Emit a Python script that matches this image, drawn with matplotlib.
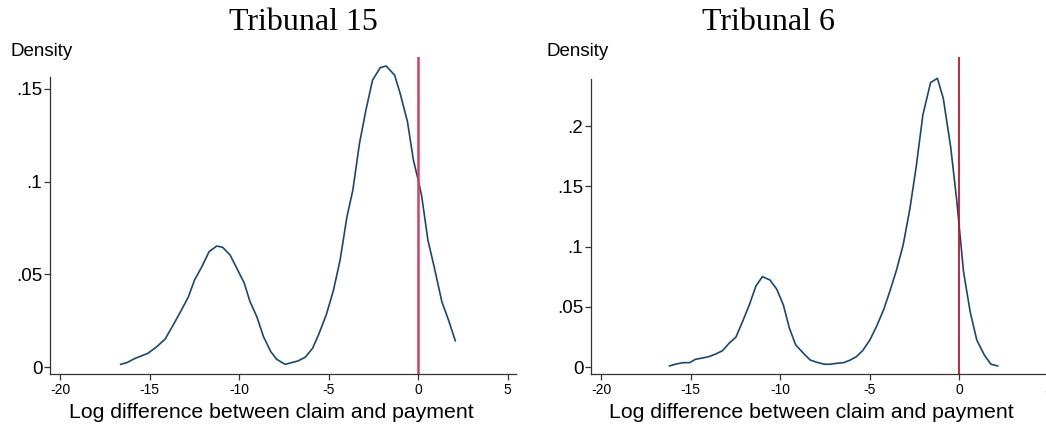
import matplotlib
matplotlib.use("Agg")
import matplotlib.pyplot as plt

# Tribunal 15: estimación de densidad
t15_x = [-16.61, -16.27, -15.81, -15.10, -14.60, -14.13, -13.61, -13.20, -12.83,
         -12.49, -12.09, -11.68, -11.25, -10.92, -10.50, -10.13, -9.72, -9.39,
         -9.01, -8.64, -8.23, -7.90, -7.43, -6.72, -6.31, -5.90, -5.57, -5.14,
         -4.73, -4.36, -3.98, -3.65, -3.28, -2.92, -2.55, -2.12, -1.79, -1.32,
         -1.01, -0.60, -0.27, 0.02, 0.20, 0.54, 0.89, 1.32, 1.69, 2.07]
t15_y = [0.0016, 0.0025, 0.0048, 0.0075, 0.0111, 0.0152, 0.0240, 0.0312, 0.0380,
         0.0470, 0.0540, 0.0622, 0.0653, 0.0646, 0.0604, 0.0533, 0.0455, 0.0353,
         0.0272, 0.0165, 0.0084, 0.0043, 0.0016, 0.0034, 0.0054, 0.0102, 0.0174,
         0.0281, 0.0416, 0.0578, 0.0810, 0.0954, 0.1205, 0.1385, 0.1546, 0.1613,
         0.1622, 0.1573, 0.1475, 0.1322, 0.1116, 0.1000, 0.0918, 0.0685, 0.0541,
         0.0353, 0.0255, 0.0143]

# Tribunal 6
t6_x = [-16.17, -15.80, -15.42, -15.05, -14.73, -14.39, -13.98, -13.59, -13.21,
        -12.85, -12.47, -12.10, -11.72, -11.35, -10.99, -10.57, -10.19, -9.82,
        -9.48, -9.13, -8.70, -8.32, -7.95, -7.52, -7.20, -6.83, -6.45, -6.08,
        -5.74, -5.39, -4.99, -4.62, -4.21, -3.88, -3.50, -3.13, -2.75, -2.40,
        -2.03, -1.60, -1.22, -0.89, -0.48, -0.14, 0.24, 0.61, 0.98, 1.40,
        1.77, 2.14]
t6_y = [0.0011, 0.0027, 0.0038, 0.0038, 0.0066, 0.0075, 0.0088, 0.0110, 0.0138,
        0.0199, 0.0249, 0.0378, 0.0517, 0.0674, 0.0751, 0.0724, 0.0647, 0.0517,
        0.0323, 0.0185, 0.0116, 0.0060, 0.0041, 0.0025, 0.0025, 0.0033, 0.0038,
        0.0060, 0.0088, 0.0138, 0.0226, 0.0337, 0.0481, 0.0627, 0.0807, 0.1014,
        0.1318, 0.1664, 0.2092, 0.2360, 0.2396, 0.2230, 0.1829, 0.1387, 0.0793,
        0.0461, 0.0226, 0.0102, 0.0025, 0.0011]

x_ticks = [-20, -15, -10, -5, 0, 5]
x_tick_labels = ["-20", "-15", "-10", "-5", "0", "5"]

W, H = 1046, 428
fig = plt.figure(figsize=(W / 100, H / 100), dpi=100)
fig.patch.set_facecolor("white")

SANS = "Liberation Sans"
SERIF = "Liberation Serif"
AXIS_COLOR = "#333333"
CURVE = "#1a476f"

paneles = [
    dict(x=t15_x, y=t15_y, left=50, ylim=(-0.0036, 0.1672), spine_top=0.1562,
         yticks=[0, 0.05, 0.1, 0.15], ylabels=["0", ".05", ".1", ".15"],
         title="Tribunal 15", title_x=303, xlabel_x=271, dens_x=10,
         red="#d43f64", red_lw=1.8),
    dict(x=t6_x, y=t6_y, left=591, ylim=(-0.0056, 0.2575), spine_top=0.2393,
         yticks=[0, 0.05, 0.1, 0.15, 0.2], ylabels=["0", ".05", ".1", ".15", ".2"],
         title="Tribunal 6", title_x=768, xlabel_x=811, dens_x=546,
         red="#c41230", red_lw=1.3),
]

ax_w = 466
for p in paneles:
    ax = fig.add_axes([p["left"] / W, (H - 374) / H, ax_w / W, (374 - 56.7) / H])
    ax.plot(p["x"], p["y"], color=CURVE, lw=1.2, clip_on=False)
    ax.axvline(0, color=p["red"], lw=p["red_lw"])
    ax.set_xlim(-20.56, 5.46)
    ax.set_ylim(*p["ylim"])
    for s in ("top", "right"):
        ax.spines[s].set_visible(False)
    for s in ("left", "bottom"):
        ax.spines[s].set_color(AXIS_COLOR)
        ax.spines[s].set_linewidth(0.9)
    ax.spines["left"].set_bounds(p["ylim"][0], p["spine_top"])
    ax.set_xticks(x_ticks)
    ax.set_xticklabels(x_tick_labels, fontsize=10, family=SANS)
    ax.set_yticks(p["yticks"])
    ax.set_yticklabels(p["ylabels"], fontsize=13.5, family=SANS)
    ax.tick_params(axis="x", length=4.5, width=0.9, color=AXIS_COLOR, pad=2)
    ax.tick_params(axis="y", length=4, width=0.9, color=AXIS_COLOR, pad=1.5)

    fig.text(p["title_x"] / W, 1 - 22 / H, p["title"], family=SERIF,
             fontsize=23, ha="center", va="center")
    fig.text(p["xlabel_x"] / W, 1 - 413 / H, "Log difference between claim and payment",
             family=SANS, fontsize=15.3, ha="center", va="center")
    fig.text(p["dens_x"] / W, 1 - 52 / H, "Density", family=SANS,
             fontsize=13.5, ha="left", va="center")

fig.savefig("out.png", dpi=100)
plt.close(fig)
